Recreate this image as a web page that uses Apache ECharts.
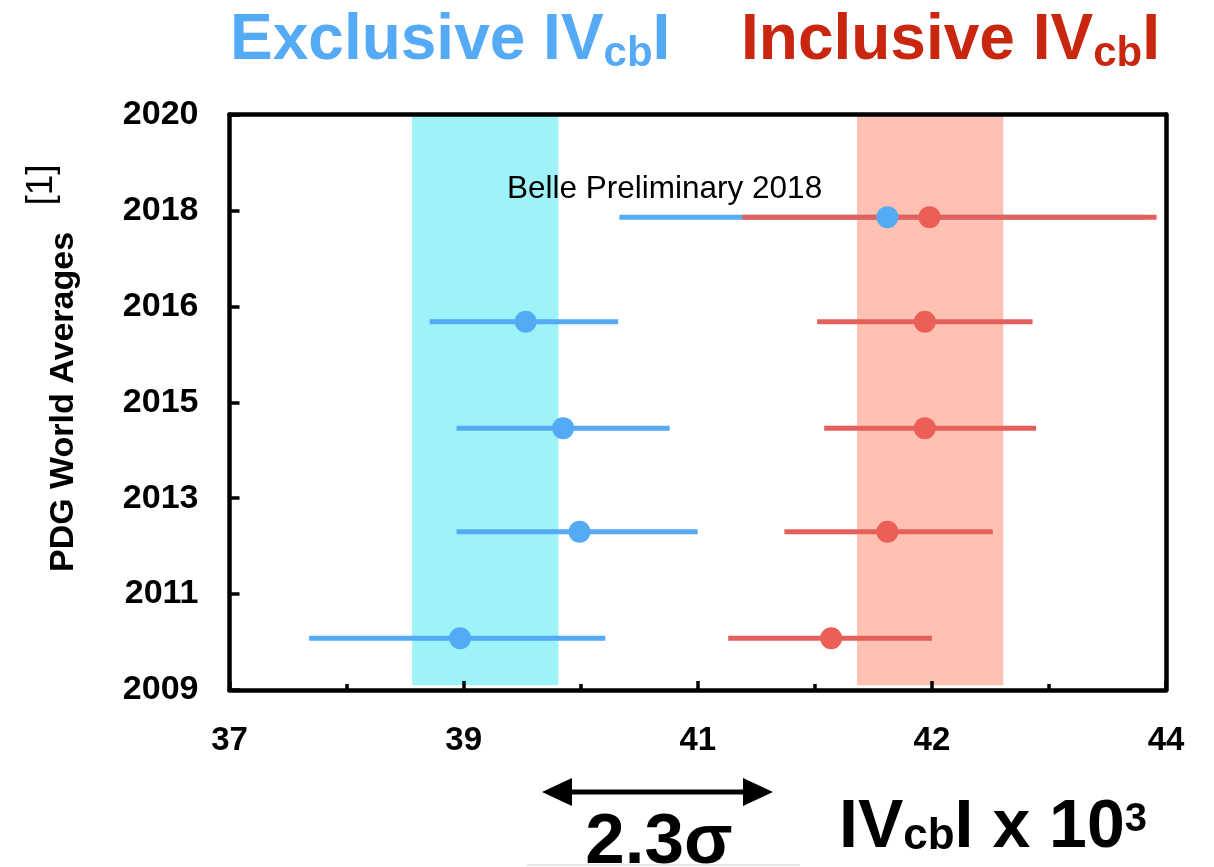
<!DOCTYPE html>
<html><head><meta charset="utf-8">
<script src="https://cdn.jsdelivr.net/npm/echarts@6/dist/echarts.min.js"></script>
<style>html,body{margin:0;padding:0;background:#fff}#chart{width:1214px;height:867px}</style>
</head><body><div id="chart"></div>
<script>
// ---- data ----
const xTickValues = [37, 38, 39, 40, 41, 41.5, 42, 43, 44];   // equally spaced on the drawn axis
const xTickLabels = ['37', '39', '41', '42', '44'];
const yTickValues = [2009, 2011, 2013, 2015, 2016, 2018, 2020]; // equally spaced on the drawn axis
const yTickLabels = ['2009', '2011', '2013', '2015', '2016', '2018', '2020'];
const rowYears    = [2010.08, 2012.30, 2014.46, 2015.84, 2017.86];
const exclCentral = [38.97, 39.99, 39.85, 39.53, 41.81];
const exclLow     = [37.68, 38.94, 38.94, 38.71, 40.33];
const exclHigh    = [40.21, 41.00, 40.76, 40.32, 43.80];
const inclCentral = [41.57, 41.81, 41.97, 41.97, 41.99];
const inclLow     = [41.13, 41.37, 41.54, 41.51, 41.19];
const inclHigh    = [42.00, 42.52, 42.89, 42.86, 43.92];
const exclBand = [38.56, 39.81];
const inclBand = [41.68, 42.61];
const bandYears = [2009.1, 2019.97];

const FONT = "'Liberation Sans', Arial, Helvetica, sans-serif";
const BLUE = '#55aaf6', RED_LINE = '#e5605b', RED_DOT = '#ec5f57';
const BLUE_BAND = '#9df3f8', RED_BAND = '#ffc1b1';

function piece(v, ticks) {
  for (let i = 0; i < ticks.length - 1; i++) {
    if (v <= ticks[i + 1] || i === ticks.length - 2) {
      return i + (v - ticks[i]) / (ticks[i + 1] - ticks[i]);
    }
  }
}
const px = v => piece(v, xTickValues);
const py = v => piece(v, yTickValues);

const bandData = [
  [px(exclBand[0]), px(exclBand[1]), py(bandYears[0]), py(bandYears[1]), 0],
  [px(inclBand[0]), px(inclBand[1]), py(bandYears[0]), py(bandYears[1]), 1]
];
const exclBars = rowYears.map((y, i) => [px(exclLow[i]), px(exclHigh[i]), py(y)]);
const inclBars = rowYears.map((y, i) => [px(inclLow[i]), px(inclHigh[i]), py(y)]);
const exclPts = rowYears.map((y, i) => [px(exclCentral[i]), py(y)]);
const inclPts = rowYears.map((y, i) => [px(inclCentral[i]), py(y)]);

function barRender(color) {
  return function (params, api) {
    const a = api.coord([api.value(0), api.value(2)]);
    const b = api.coord([api.value(1), api.value(2)]);
    return { type: 'line', shape: { x1: a[0], y1: a[1], x2: b[0], y2: b[1] },
             style: { stroke: color, lineWidth: 5 } };
  };
}
function bandRender(params, api) {
  const a = api.coord([api.value(0), api.value(3)]);
  const b = api.coord([api.value(1), api.value(2)]);
  return { type: 'rect', shape: { x: a[0], y: a[1], width: b[0] - a[0], height: b[1] - a[1] },
           style: { fill: api.value(4) === 0 ? BLUE_BAND : RED_BAND } };
}

const axisLineStyle = { color: '#000', width: 4.5 };
const chart = echarts.init(document.getElementById('chart'), null, { renderer: 'canvas' });
chart.setOption({
  animation: false,
  backgroundColor: '#fff',
  textStyle: { fontFamily: FONT },
  grid: { left: 229.5, right: 48, top: 114.5, bottom: 177 },
  xAxis: [
    { type: 'value', min: 0, max: 8, interval: 2, position: 'bottom', z: 10,
      axisLine: { show: true, onZero: false, lineStyle: axisLineStyle },
      axisTick: { show: true, inside: true, length: 9, lineStyle: { color: '#000', width: 3.5 } },
      minorTick: { show: true, splitNumber: 2, length: 6, lineStyle: { color: '#000', width: 3.5 } },
      splitLine: { show: false }, minorSplitLine: { show: false },
      axisLabel: { margin: 34, fontSize: 33, fontWeight: 'bold', color: '#000', fontFamily: FONT,
                   formatter: v => xTickLabels[Math.round(v / 2)] } },
    { type: 'value', min: 0, max: 8, position: 'top', z: 10,
      axisLine: { show: true, onZero: false, lineStyle: axisLineStyle },
      axisTick: { show: false }, axisLabel: { show: false }, splitLine: { show: false } }
  ],
  yAxis: [
    { type: 'value', min: 0, max: 6, interval: 1, position: 'left', z: 10,
      axisLine: { show: true, onZero: false, lineStyle: axisLineStyle },
      axisTick: { show: true, inside: true, length: 10, lineStyle: { color: '#000', width: 3.5 } },
      splitLine: { show: false },
      axisLabel: { margin: 31, fontSize: 34, fontWeight: 'bold', color: '#000', fontFamily: FONT,
                   formatter: v => yTickLabels[Math.round(v)] } },
    { type: 'value', min: 0, max: 6, position: 'right', z: 10,
      axisLine: { show: true, onZero: false, lineStyle: axisLineStyle },
      axisTick: { show: false }, axisLabel: { show: false }, splitLine: { show: false } }
  ],
  series: [
    { type: 'custom', name: 'bands', renderItem: bandRender, data: bandData, z: 1,
      encode: { x: [0, 1], y: [2, 3] }, silent: true },
    { type: 'custom', name: 'Exclusive errors', renderItem: barRender(BLUE), data: exclBars, z: 2,
      encode: { x: [0, 1], y: 2 } },
    { type: 'custom', name: 'Inclusive errors', renderItem: barRender(RED_LINE), data: inclBars, z: 3,
      encode: { x: [0, 1], y: 2 } },
    { type: 'scatter', name: 'Exclusive', data: exclPts, symbolSize: 22, z: 4,
      itemStyle: { color: BLUE, opacity: 1 } },
    { type: 'scatter', name: 'Inclusive', data: inclPts, symbolSize: 22, z: 5,
      itemStyle: { color: RED_DOT, opacity: 1 } }
  ],
  graphic: [
    { type: 'text', x: 230, y: 9, z: 20,
      style: { text: '{m|Exclusive IV}{s|cb}{m|I}', align: 'left', verticalAlign: 'top',
        rich: {
          m: { fontSize: 64, fontWeight: 'bold', fill: BLUE, fontFamily: FONT, verticalAlign: 'bottom', padding: [0, 0, 2, 0] },
          s: { fontSize: 42, fontWeight: 'bold', fill: BLUE, fontFamily: FONT, verticalAlign: 'bottom' }
        } } },
    { type: 'text', x: 741, y: 9, z: 20,
      style: { text: '{m|Inclusive IV}{s|cb}{m|I}', align: 'left', verticalAlign: 'top',
        rich: {
          m: { fontSize: 64, fontWeight: 'bold', fill: '#c8260f', fontFamily: FONT, verticalAlign: 'bottom', padding: [0, 0, 2, 0] },
          s: { fontSize: 42, fontWeight: 'bold', fill: '#c8260f', fontFamily: FONT, verticalAlign: 'bottom' }
        } } },
    { type: 'text', x: 507, y: 173, z: 20,
      style: { text: 'Belle Preliminary 2018', fontSize: 31.5, fill: '#000', fontFamily: FONT,
               align: 'left', verticalAlign: 'top' } },
    { type: 'text', x: 64, y: 402, rotation: Math.PI / 2, z: 20,
      style: { text: 'PDG World Averages', fontSize: 34, fontWeight: 'bold', fill: '#000', fontFamily: FONT,
               align: 'center', verticalAlign: 'middle' } },
    { type: 'text', x: 42, y: 185, rotation: Math.PI / 2, z: 20,
      style: { text: '[1]', fontSize: 37, fill: '#000', fontFamily: FONT,
               align: 'center', verticalAlign: 'middle' } },
    // double-headed arrow
    { type: 'line', z: 20, shape: { x1: 566, y1: 792, x2: 750, y2: 792 },
      style: { stroke: '#000', lineWidth: 5 } },
    { type: 'polygon', z: 20, shape: { points: [[542, 792], [572, 778], [572, 806]] }, style: { fill: '#000' } },
    { type: 'polygon', z: 20, shape: { points: [[773, 792], [743, 778], [743, 806]] }, style: { fill: '#000' } },
    { type: 'text', x: 659, y: 808, z: 20,
      style: { text: '2.3σ', fontSize: 71, fontWeight: 'bold', fill: '#000', fontFamily: FONT,
               align: 'center', verticalAlign: 'top' } },
    { type: 'line', z: 19, shape: { x1: 527, y1: 865, x2: 800, y2: 865 },
      style: { stroke: '#e6e6e6', lineWidth: 2 } },
    { type: 'text', x: 839, y: 794, z: 20,
      style: { text: '{m|IV}{s|cb}{m|I x 10}{p|3}', align: 'left', verticalAlign: 'top',
        rich: {
          m: { fontSize: 68, fontWeight: 'bold', fill: '#000', fontFamily: FONT, verticalAlign: 'bottom' },
          s: { fontSize: 44, fontWeight: 'bold', fill: '#000', fontFamily: FONT, verticalAlign: 'bottom', padding: [0, 0, 3, 0] },
          p: { fontSize: 40, fontWeight: 'bold', fill: '#000', fontFamily: FONT, verticalAlign: 'top', padding: [6, 0, 0, 0] }
        } } }
  ]
});
</script></body></html>
